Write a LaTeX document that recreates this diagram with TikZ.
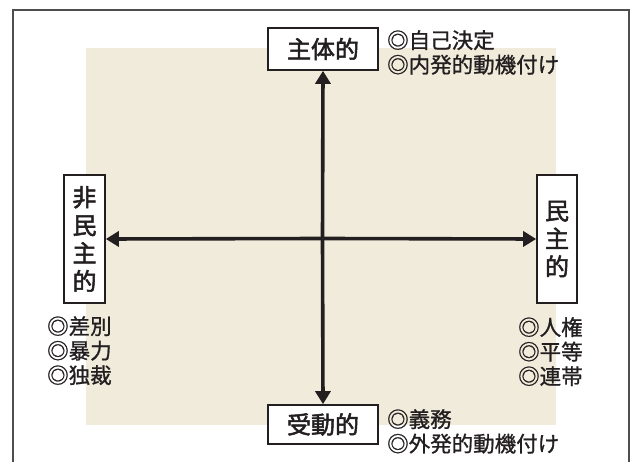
\documentclass[tikz,border=0pt]{standalone}
\usepackage{fontspec}
\setmainfont{Noto Sans CJK JP}
\newfontfamily\lblfont{Noto Sans CJK JP}[BoldFont={Noto Sans CJK JP}, BoldFeatures={FakeBold=2.2}]
\newfontfamily\notefont{Noto Sans CJK JP}[BoldFont={Noto Sans CJK JP}, BoldFeatures={FakeBold=1.0}]
\usetikzlibrary{arrows.meta}
\definecolor{beige}{HTML}{F1EBDB}
\definecolor{ink}{HTML}{231F20}
\tikzset{
  lbl/.style={draw=ink, line width=1.6pt, fill=white, inner sep=0pt, font=\lblfont\bfseries\fontsize{24}{28}\selectfont, text=ink},
  note/.style={anchor=north west, inner sep=0pt, align=left, font=\notefont\bfseries\fontsize{21.5}{24.5}\selectfont, text=ink},
  axis/.style={draw=ink, line width=3.6pt, -{Triangle[length=13pt,width=15pt]}, shorten >=0pt}
}
\begin{document}
\begin{tikzpicture}[x=1pt,y=-1pt]
\useasboundingbox (0,0) rectangle (630,462);
\fill[white] (0,0) rectangle (630,462);
\fill[beige] (86,48) rectangle (556,425);
\draw[ink!80, line width=2pt] (13,462) -- (13,10) -- (629,10) -- (629,462);
\node[lbl, minimum width=110pt, minimum height=42pt] (top) at (323,49) {主体的};
\node[lbl, minimum width=110pt, minimum height=39pt] (bot) at (323,424.5) {受動的};
\node[lbl, minimum width=41pt, minimum height=128pt, align=center] (left) at (84.5,239) {非\\民\\主\\的};
\node[lbl, minimum width=40pt, minimum height=128pt, align=center] (right) at (557,239) {民\\主\\的};
\coordinate (c) at (322.5,238.5);
\draw[axis] (c) -- (top.south);
\draw[axis] (c) -- (bot.north);
\draw[axis] (c) -- (left.east);
\draw[axis] (c) -- (right.west);
\node[note] (tn) at (387,30) {◎自己決定\\◎内発的動機付け};
\node[note] (bn) at (387,409) {◎義務\\◎外発的動機付け};
\node[note] (ln) at (47,316) {◎差別\\◎暴力\\◎独裁};
\node[note] (rn) at (518,317) {◎人権\\◎平等\\◎連帯};
\end{tikzpicture}
\end{document}
